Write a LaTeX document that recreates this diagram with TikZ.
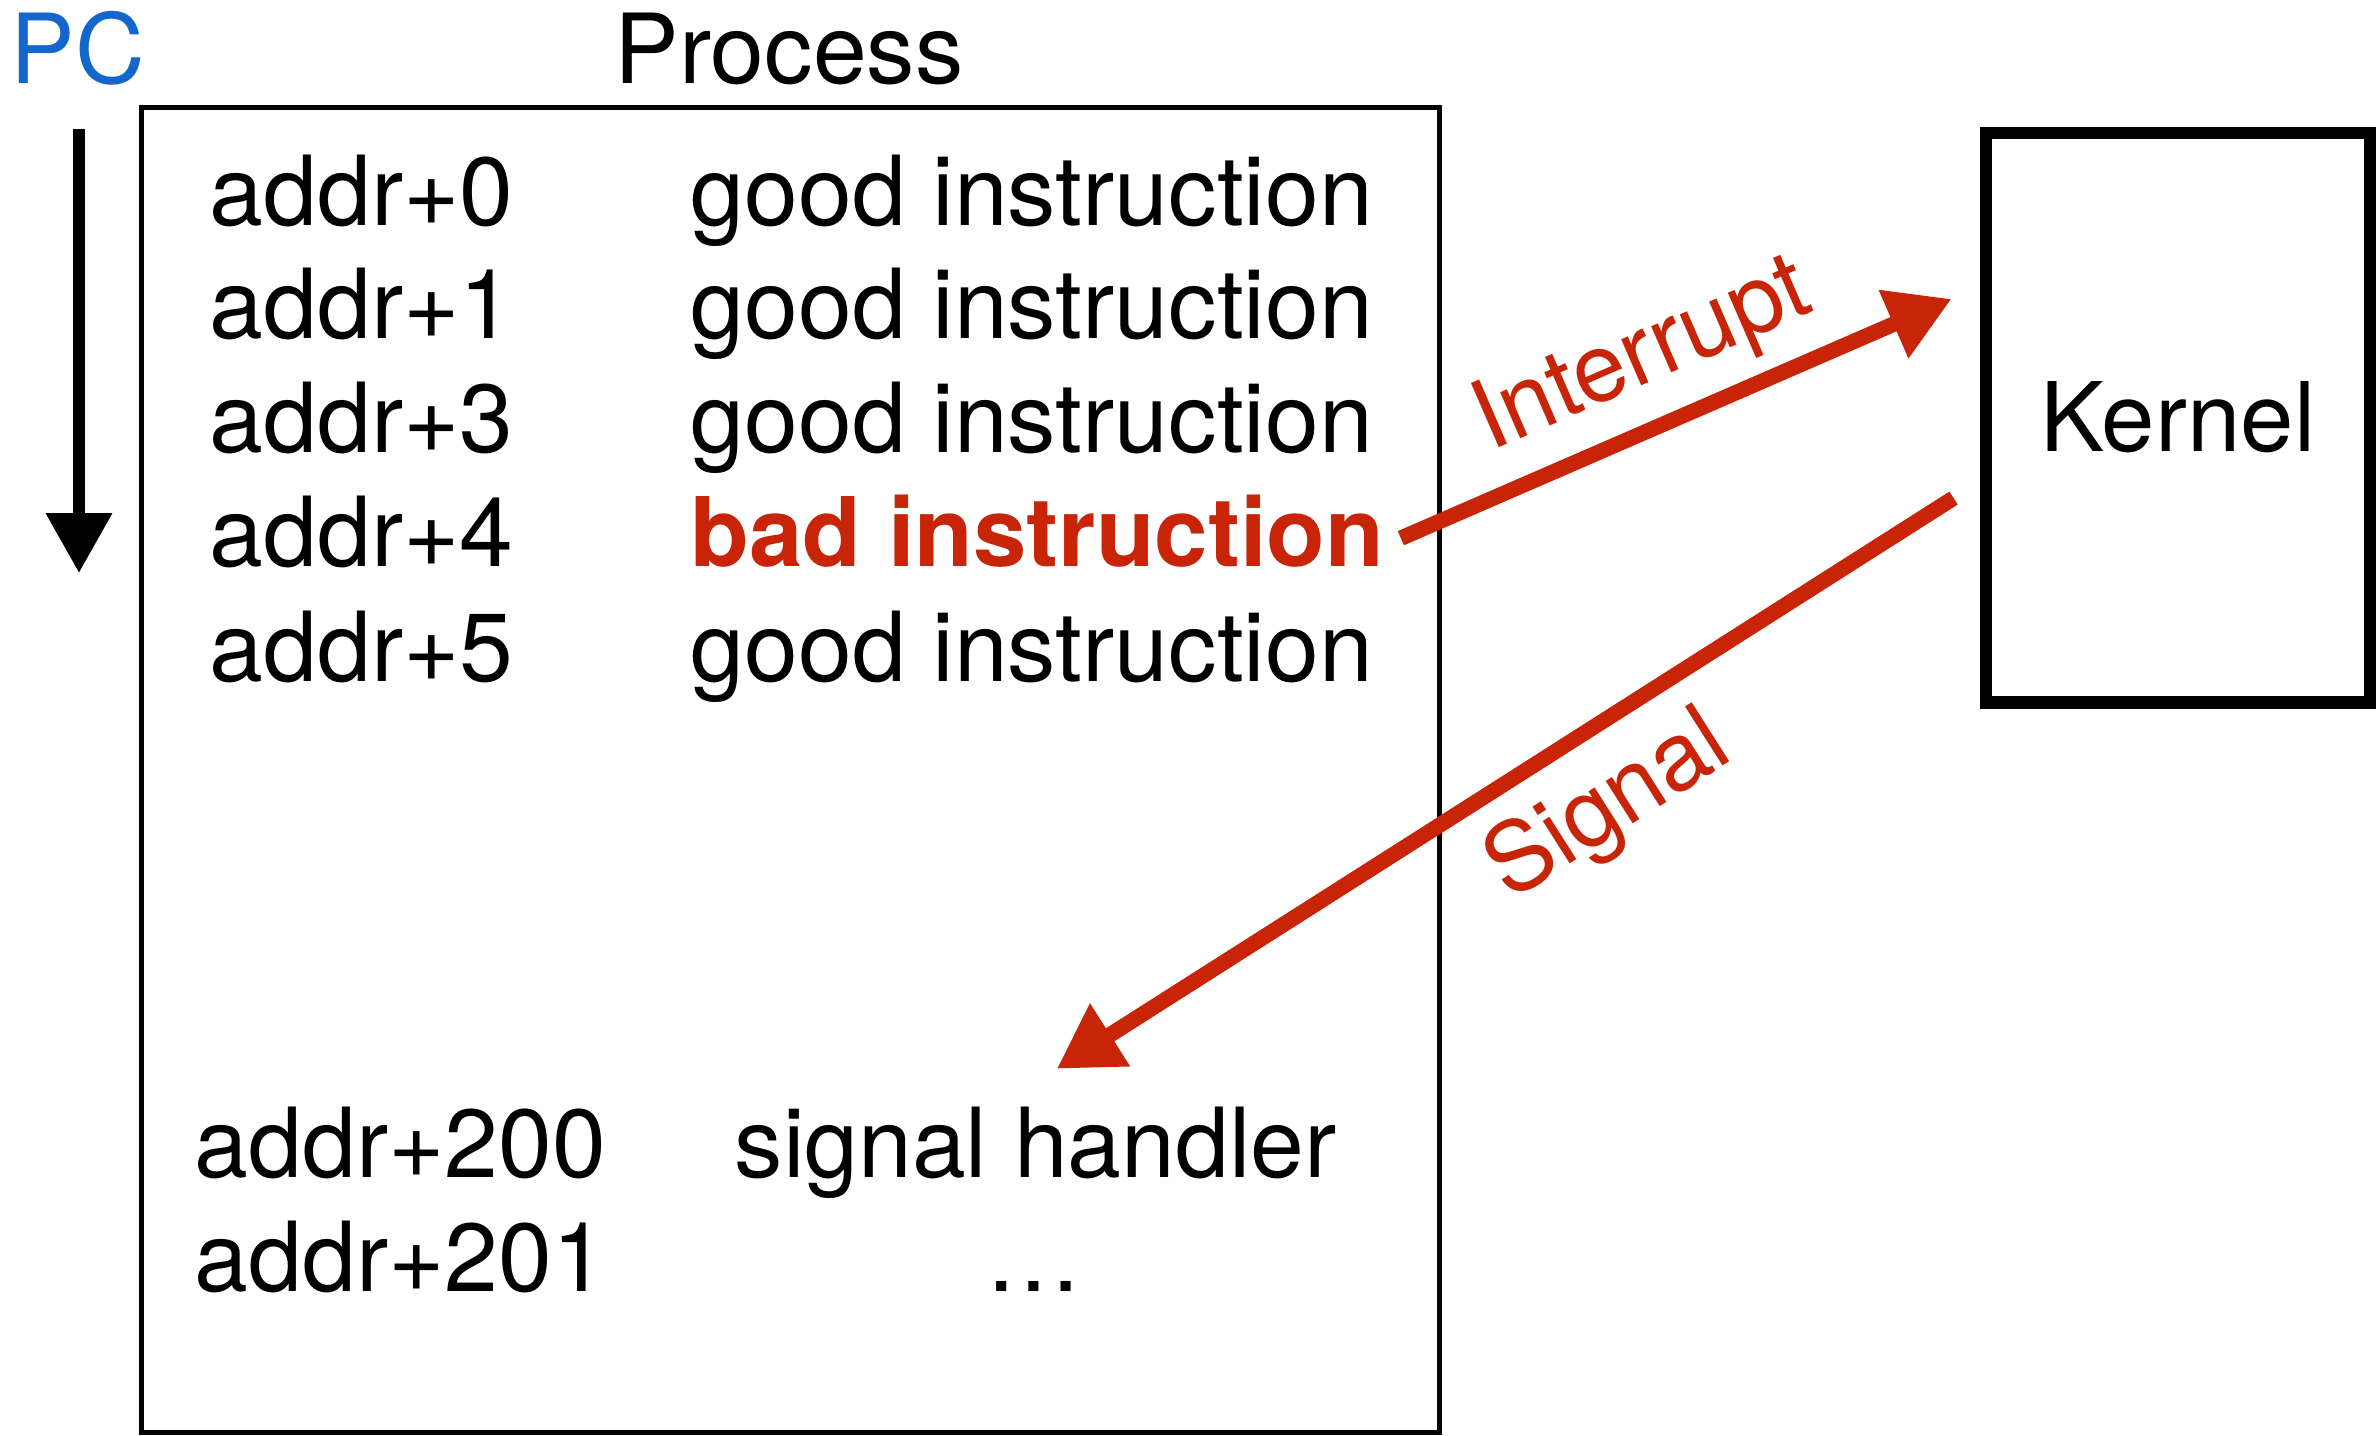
\documentclass[tikz,border=0pt]{standalone}
\usepackage{fontspec}
\setmainfont{TeX Gyre Heros}
\usetikzlibrary{arrows.meta}
\definecolor{sigred}{RGB}{200,36,8}
\definecolor{pcblue}{RGB}{18,102,204}

\begin{document}
\begin{tikzpicture}[x=0.01cm,y=-0.01cm,
    txt/.style={inner sep=0pt,anchor=base west,font=\fontsize{27.5}{32}\selectfont},
    redarrow/.style={draw=sigred,line width=4.4pt,-{Triangle[length=18pt,width=20pt]}},
    redlabel/.style={text=sigred,sloped,font=\fontsize{27.3}{32}\selectfont}]
    \useasboundingbox (0,0) rectangle (2379,1435);
    \node[txt,anchor=base,text=pcblue] (pc) at (78,83) {PC};
    \node[txt,anchor=base] (title) at (789,83) {Process};
    \node[draw,line width=1.6pt,minimum width=12.97cm,minimum height=13.24cm] (proc) at (790.5,770) {};
    \node[draw,line width=3.6pt,minimum width=3.84cm,minimum height=5.69cm,
        font=\fontsize{27.3}{32}\selectfont] (kern) at (2178,417.5) {Kernel};
    \coordinate (pctop) at (79,129);
    \coordinate (pcbot) at (79,573);
    \draw[line width=3.4pt,-{Triangle[length=17pt,width=18pt]}] (pctop) -- (pcbot);
    \node[txt] (a0) at (209,225) {addr+0};
    \node[txt] (i0) at (690,225) {good instruction};
    \node[txt] (a1) at (209,338) {addr+1};
    \node[txt] (i1) at (690,338) {good instruction};
    \node[txt] (a3) at (209,452) {addr+3};
    \node[txt] (i3) at (690,452) {good instruction};
    \node[txt] (a4) at (209,566) {addr+4};
    \node[txt,text=sigred,font=\fontsize{27.3}{32}\selectfont\bfseries] (bad) at (690,566) {bad instruction};
    \node[txt] (a5) at (209,681) {addr+5};
    \node[txt] (i5) at (690,681) {good instruction};
    \node[txt] (a200) at (194,1177) {addr+200};
    \node[txt] (handler) at (734,1177) {signal handler};
    \node[txt] (a201) at (194,1291) {addr+201};
    \node[txt,anchor=base] (dots) at (1034,1291) {…};
    \draw[redarrow] ([xshift=0.16cm,yshift=-0.075cm]bad.east) -- ([xshift=-0.28cm,yshift=1.185cm]kern.west)
        node[redlabel,pos=0.49,above,inner sep=0.15cm] {Interrupt};
    \draw[redarrow] ([xshift=-0.26cm,yshift=-0.805cm]kern.west) -- ([xshift=0.21cm,yshift=0.37cm]handler.north)
        node[redlabel,pos=0.43,below,inner sep=0.23cm] {Signal};
\end{tikzpicture}
\end{document}
